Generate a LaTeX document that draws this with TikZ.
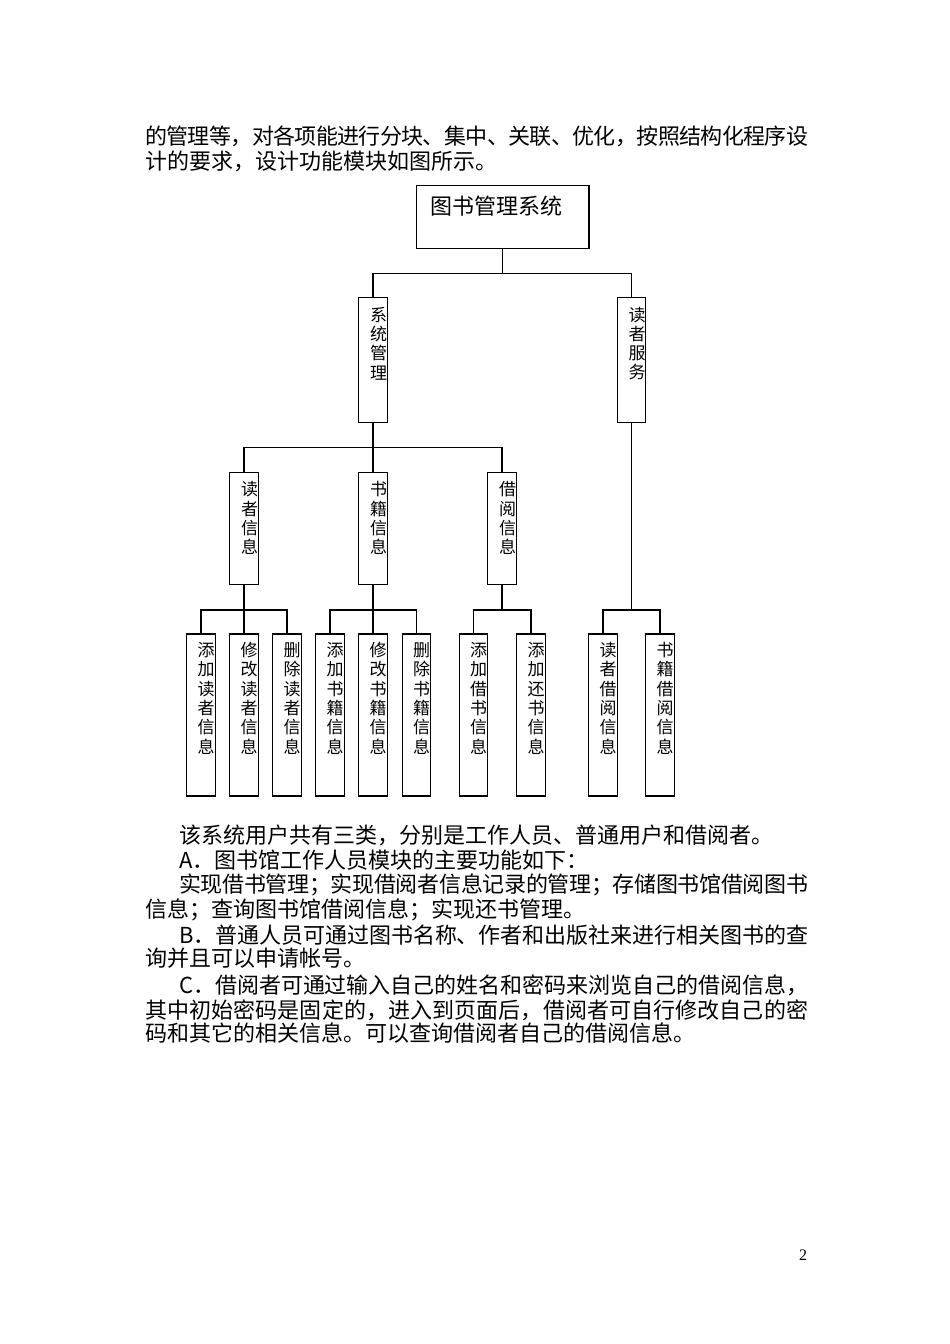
\documentclass[tikz,border=0pt]{standalone}
\usepackage{fontspec}
\setmainfont{Liberation Serif}
\newfontfamily\cjk{Noto Sans CJK SC}
\usetikzlibrary{calc}
\def\spr#1{#1\sprA}
\def\sprA#1{\ifx#1\relax\else\hss#1\expandafter\sprA\fi}
\newcommand\jl[2]{\hbox to #1{\spr#2\relax}}
\tikzset{
  box/.style={draw, line width=1.2pt, minimum width=28.5pt, inner sep=0pt, outer sep=0pt},
  lf/.style={box, minimum height=162pt},
  mid/.style={box, minimum height=124.6pt},
  thd/.style={box, minimum height=112pt},
  vt/.style={font=\cjk\fontsize{17}{19.3}\selectfont, align=center, inner sep=0pt},
  body/.style={font=\cjk\fontsize{22}{24}\selectfont, inner sep=0pt, anchor=west},
  conn/.style={line width=1.2pt},
}
\begin{document}
\begin{tikzpicture}[x=1pt,y=-1pt]
\fill[white] (0,0) rectangle (950,1344);
\useasboundingbox (0,0) rectangle (950,1344);

% body text above
\node[body] (p1) at (145,136) {\jl{663pt}{的管理等，对各项能进行分块、集中、关联、优化，按照结构化程序设}};
\node[body] (p2) at (145,161) {计的要求，设计功能模块如图所示。};

% top box
\node[box, minimum width=172.3pt, minimum height=62.6pt] (top) at (502.85,217) {};
\node[font=\cjk\fontsize{22}{24}\selectfont, inner sep=0pt] (tt) at (496,206) {图书管理系统};

% second level
\node[mid] (sys) at (373,360) {};
\node[mid] (svc) at (631.5,360) {};
\node[vt] (sysT) at ($(sys.center)+(5.5,-16.5)$) {系\\统\\管\\理};
\node[vt] (svcT) at ($(svc.center)+(5.5,-16.5)$) {读\\者\\服\\务};

% third level
\node[thd] (ri) at (244,528.3) {};
\node[thd] (bi) at (373,528.3) {};
\node[thd] (ji) at (502,528.3) {};
\node[vt] (riT) at ($(ri.center)+(5.5,-10)$) {读\\者\\信\\息};
\node[vt] (biT) at ($(bi.center)+(5.5,-10)$) {书\\籍\\信\\息};
\node[vt] (jiT) at ($(ji.center)+(5.5,-10)$) {借\\阅\\信\\息};

% leaves
\node[lf] (l1) at (201,715) {};
\node[lf] (l2) at (244,715) {};
\node[lf] (l3) at (287,715) {};
\node[lf] (l4) at (330,715) {};
\node[lf] (l5) at (373,715) {};
\node[lf] (l6) at (416.5,715) {};
\node[lf] (l7) at (473.5,715) {};
\node[lf] (l8) at (531,715) {};
\node[lf] (l9) at (603,715) {};
\node[lf] (l10) at (660,715) {};
\node[vt] (l1T) at ($(l1.center)+(5,-16.7)$) {添\\加\\读\\者\\信\\息};
\node[vt] (l2T) at ($(l2.center)+(5,-16.7)$) {修\\改\\读\\者\\信\\息};
\node[vt] (l3T) at ($(l3.center)+(5,-16.7)$) {删\\除\\读\\者\\信\\息};
\node[vt] (l4T) at ($(l4.center)+(5,-16.7)$) {添\\加\\书\\籍\\信\\息};
\node[vt] (l5T) at ($(l5.center)+(5,-16.7)$) {修\\改\\书\\籍\\信\\息};
\node[vt] (l6T) at ($(l6.center)+(5,-16.7)$) {删\\除\\书\\籍\\信\\息};
\node[vt] (l7T) at ($(l7.center)+(5,-16.7)$) {添\\加\\借\\书\\信\\息};
\node[vt] (l8T) at ($(l8.center)+(5,-16.7)$) {添\\加\\还\\书\\信\\息};
\node[vt] (l9T) at ($(l9.center)+(5,-16.7)$) {读\\者\\借\\阅\\信\\息};
\node[vt] (l10T) at ($(l10.center)+(5,-16.7)$) {书\\籍\\借\\阅\\信\\息};

% connectors
\coordinate (j0) at (502.85,273.3);
\draw[conn] (top.south) -- (j0) (j0) -| (sys.north) (j0) -| (svc.north);
\coordinate (j1) at (373,447.3);
\draw[conn] (sys.south) -- (j1) (j1) -| (ri.north) (j1) -- (bi.north) (j1) -| (ji.north);
\coordinate (j2) at (244,610);
\draw[conn] (ri.south) -- (j2) (j2) -| (l1.north) (j2) -- (l2.north) (j2) -| (l3.north);
\coordinate (j3) at (373,610);
\draw[conn] (bi.south) -- (j3) (j3) -| (l4.north) (j3) -- (l5.north) (j3) -| (l6.north);
\coordinate (j4) at (502,610);
\draw[conn] (ji.south) -- (j4) (j4) -| (l7.north) (j4) -| (l8.north);
\coordinate (j5) at (631.5,610);
\draw[conn] (svc.south) -- (j5) (j5) -| (l9.north) (j5) -| (l10.north);

% body text below
\node[body] (q1) at (179,835) {该系统用户共有三类，分别是工作人员、普通用户和借阅者。};
\node[body] (q2) at (179,860) {A．图书馆工作人员模块的主要功能如下：};
\node[body] (q3) at (179,885) {\jl{629pt}{实现借书管理；实现借阅者信息记录的管理；存储图书馆借阅图书}};
\node[body] (q4) at (145,910) {信息；查询图书馆借阅信息；实现还书管理。};
\node[body] (q5) at (179,935) {\jl{629pt}{B．普通人员可通过图书名称、作者和出版社来进行相关图书的查}};
\node[body] (q6) at (145,958) {询并且可以申请帐号。};
\node[body] (q7) at (179,985.5) {\jl{629pt}{C．借阅者可通过输入自己的姓名和密码来浏览自己的借阅信息，}};
\node[body] (q8) at (145,1010) {\jl{663pt}{其中初始密码是固定的，进入到页面后，借阅者可自行修改自己的密}};
\node[body] (q9) at (145,1033) {码和其它的相关信息。可以查询借阅者自己的借阅信息。};

% page number
\node[font=\fontsize{16}{18}\selectfont, inner sep=0pt] (pg) at (803,1255.5) {2};
\end{tikzpicture}
\end{document}
